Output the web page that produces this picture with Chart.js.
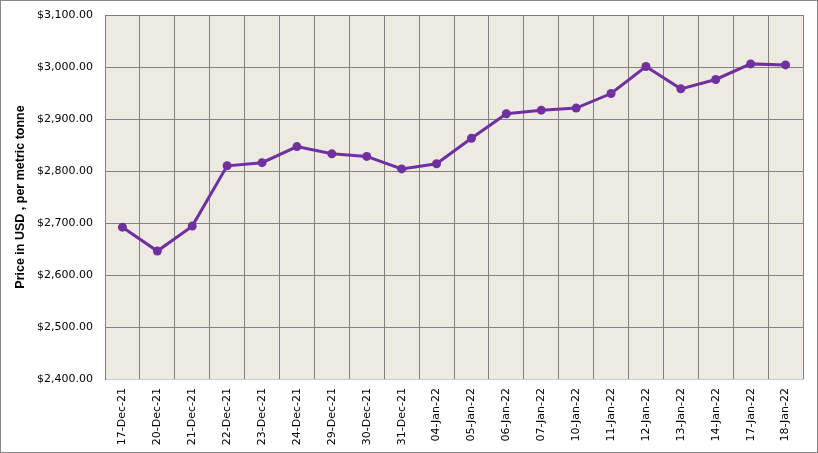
<!DOCTYPE html>
<html>
<head>
<meta charset="utf-8">
<script src="https://cdn.jsdelivr.net/npm/chart.js@4.4.0/dist/chart.umd.min.js"></script>
<style>
  html, body { margin: 0; padding: 0; background: #fff; }
  #wrap { width: 816px; height: 451px; border: 1px solid #868686; }
</style>
</head>
<body>
<div id="wrap"><canvas id="chart" width="816" height="451"></canvas></div>
<script>
// dates on the x axis
const dates = [
  '17-Dec-21', '20-Dec-21', '21-Dec-21', '22-Dec-21', '23-Dec-21',
  '24-Dec-21', '29-Dec-21', '30-Dec-21', '31-Dec-21', '04-Jan-22',
  '05-Jan-22', '06-Jan-22', '07-Jan-22', '10-Jan-22', '11-Jan-22',
  '12-Jan-22', '13-Jan-22', '14-Jan-22', '17-Jan-22', '18-Jan-22'
];

// price, USD per metric tonne
const prices = [
  2692, 2646, 2694, 2810, 2816,
  2847, 2833, 2828, 2804, 2814,
  2863, 2910, 2917, 2921, 2949,
  3001, 2958, 2976, 3006, 3004
];

const yMin = 2400;
const yMax = 3100;
const yStep = 100;

// Excel-ish beige plot area
const plotBg = {
  id: 'plotBg',
  beforeDraw(chart) {
    const { ctx, chartArea: a } = chart;
    ctx.save();
    ctx.fillStyle = '#EDEAE1';
    ctx.fillRect(a.left, a.top, a.right - a.left, a.bottom - a.top);
    ctx.restore();
  }
};

const money = v => '$' + v.toLocaleString('en-US', { minimumFractionDigits: 2, maximumFractionDigits: 2 });

new Chart(document.getElementById('chart'), {
  type: 'line',
  data: {
    labels: dates,
    datasets: [{
      label: 'Price',
      data: prices,
      borderColor: '#7030A0',
      backgroundColor: '#7030A0',
      borderWidth: 3,
      pointRadius: 4.5,
      pointBackgroundColor: '#7030A0',
      pointBorderWidth: 0,
      tension: 0,
      fill: false
    }]
  },
  options: {
    responsive: false,
    animation: false,
    layout: { padding: { top: 14, right: 14, left: 0, bottom: 0 } },
    plugins: {
      legend: { display: false },
      tooltip: { enabled: false }
    },
    scales: {
      x: {
        offset: true,
        grid: { offset: true, color: '#808080', lineWidth: 1, drawTicks: false },
        border: { color: '#C3CEDC', width: 1 },
        ticks: {
          color: '#000',
          font: { family: 'DejaVu Sans', size: 11 },
          maxRotation: 90,
          minRotation: 90,
          padding: 9,
          autoSkip: false
        },
        afterFit(scale) { scale.height = 73; }
      },
      y: {
        min: yMin,
        max: yMax,
        grid: { color: '#808080', lineWidth: 1, drawTicks: false },
        border: { color: '#808080', width: 1 },
        ticks: {
          stepSize: yStep,
          color: '#000',
          font: { family: 'DejaVu Sans', size: 11 },
          padding: 12,
          callback: v => money(v)
        },
        title: {
          display: true,
          text: 'Price in USD , per metric tonne',
          color: '#000',
          font: { family: 'Liberation Sans', size: 12.5, weight: 'bold' },
          padding: { top: 12, bottom: 0 }
        },
        afterFit(scale) {
          scale.width = 104;
          scale.paddingTop = 0;
          scale.paddingBottom = 0;
        }
      }
    }
  },
  plugins: [plotBg]
});
</script>
</body>
</html>
